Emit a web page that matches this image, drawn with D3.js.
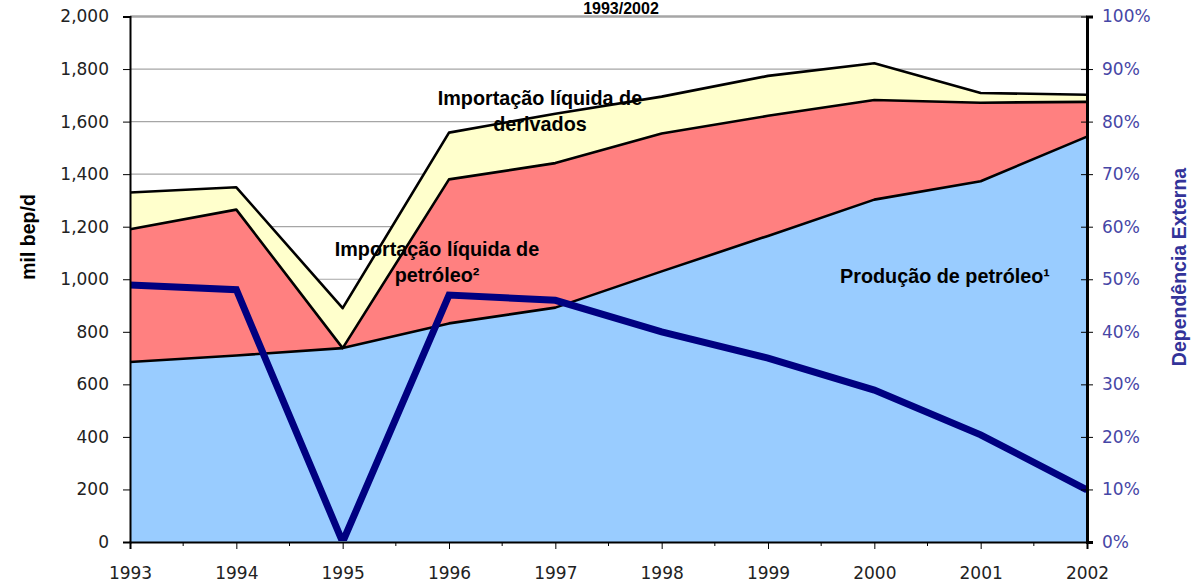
<!DOCTYPE html>
<html>
<head>
<meta charset="utf-8">
<script src="https://cdn.jsdelivr.net/npm/d3@7"></script>
<style>
  body { margin: 0; background: #fff; }
  svg { display: block; }
</style>
</head>
<body>
<svg id="chart" width="1191" height="585"></svg>
<script>
// values (mil bep/d and %)
const years = [1993, 1994, 1995, 1996, 1997, 1998, 1999, 2000, 2001, 2002];
const producao = [685, 710, 738, 832, 892, 1030, 1165, 1303, 1373, 1543];
const importPetroleo = [505, 555, 0, 548, 550, 525, 457, 379, 299, 132];
const importDerivados = [140, 85, 152, 178, 188, 140, 152, 140, 37, 27];
const dependencia = [48.9, 48.0, 0, 47.0, 46.0, 40.0, 35.0, 28.9, 20.4, 9.9];
const leftTicks = [0, 200, 400, 600, 800, 1000, 1200, 1400, 1600, 1800, 2000];
const rightTicks = [0, 10, 20, 30, 40, 50, 60, 70, 80, 90, 100];

const svg = d3.select('#chart');
const plotLeft = 130, plotRight = 1087, plotTop = 16.5, plotBottom = 542;

const x = d3.scaleLinear().domain([1993, 2002]).range([plotLeft, plotRight]);
const y = d3.scaleLinear().domain([0, 2000]).range([plotBottom, plotTop]);
const y2 = d3.scaleLinear().domain([0, 100]).range([plotBottom, plotTop]);

const tickFont = '"DejaVu Sans", Verdana, sans-serif';
const boldFont = '"Liberation Sans", Arial, sans-serif';

svg.append('clipPath')
  .attr('id', 'plotClip')
  .append('rect')
  .attr('x', plotLeft).attr('y', plotTop)
  .attr('width', plotRight - plotLeft).attr('height', plotBottom - plotTop - 1);

// gridlines
svg.append('g')
  .selectAll('line')
  .data(leftTicks.slice(1))
  .enter()
  .append('line')
  .attr('x1', plotLeft).attr('x2', plotRight)
  .attr('y1', (d) => y(d)).attr('y2', (d) => y(d))
  .attr('stroke', '#a6a6a6')
  .attr('stroke-width', (d) => (d === 2000 ? 2.5 : 1.2));

// stacked areas
const table = years.map((yr, i) => ({
  year: yr,
  prod: producao[i],
  crude: importPetroleo[i],
  deriv: importDerivados[i],
}));
const stack = d3.stack().keys(['prod', 'crude', 'deriv']);
const series = stack(table);
const fills = ['#99ccff', '#ff8080', '#ffffcc'];

const area = d3.area()
  .x((d) => x(d.data.year))
  .y0((d) => y(d[0]))
  .y1((d) => y(d[1]));
const topLine = d3.line()
  .x((d) => x(d.data.year))
  .y((d) => y(d[1]));

svg.append('g')
  .selectAll('path')
  .data(series)
  .enter()
  .append('path')
  .attr('d', area)
  .attr('fill', (d, i) => fills[i]);

svg.append('g')
  .selectAll('path')
  .data(series)
  .enter()
  .append('path')
  .attr('d', topLine)
  .attr('fill', 'none')
  .attr('stroke', '#000')
  .attr('stroke-width', 2.6)
  .attr('stroke-linejoin', 'round');

// dependency line
const depLine = d3.line()
  .x((d, i) => x(years[i]))
  .y((d) => y2(d));
svg.append('path')
  .datum(dependencia)
  .attr('clip-path', 'url(#plotClip)')
  .attr('d', depLine)
  .attr('fill', 'none')
  .attr('stroke', '#000080')
  .attr('stroke-width', 7)
  .attr('stroke-linejoin', 'miter');

// left axis
const leftAxis = svg.append('g')
  .attr('transform', `translate(${plotLeft},0)`)
  .call(d3.axisLeft(y).tickValues(leftTicks).tickFormat(d3.format(',')).tickSize(7).tickPadding(14));
leftAxis.select('.domain').attr('stroke', '#000').attr('stroke-width', 2);
leftAxis.selectAll('text')
  .attr('font-family', tickFont).attr('font-size', 17).attr('fill', '#222');

// bottom axis
const bottomAxis = svg.append('g')
  .attr('transform', `translate(0,${plotBottom})`)
  .call(d3.axisBottom(x).tickValues(years).tickFormat(d3.format('d')).tickSize(7).tickPadding(18));
bottomAxis.select('.domain').attr('stroke', '#000').attr('stroke-width', 2);
bottomAxis.selectAll('text')
  .attr('font-family', tickFont).attr('font-size', 17).attr('fill', '#222');
bottomAxis.selectAll('.minor')
  .data(years.slice(0, -1))
  .enter()
  .append('line')
  .attr('class', 'minor')
  .attr('x1', (d) => x(d + 0.5)).attr('x2', (d) => x(d + 0.5))
  .attr('y1', 0).attr('y2', 4)
  .attr('stroke', '#000');

// right axis
const rightAxis = svg.append('g')
  .attr('transform', `translate(${plotRight},0)`)
  .call(d3.axisRight(y2).tickValues(rightTicks).tickFormat((d) => d + '%').tickSize(6).tickPadding(9));
rightAxis.select('.domain').attr('stroke', '#000').attr('stroke-width', 3);
rightAxis.selectAll('.tick line').attr('x1', -6);
rightAxis.selectAll('text')
  .attr('font-family', tickFont).attr('font-size', 17).attr('fill', '#4646a6');

// title (top cut off in the source)
svg.append('text')
  .attr('x', 621).attr('y', 14)
  .attr('text-anchor', 'middle')
  .attr('font-family', boldFont).attr('font-weight', 'bold').attr('font-size', 16)
  .text('1993/2002');

// axis titles
svg.append('text')
  .attr('transform', 'translate(35,237) rotate(-90)')
  .attr('text-anchor', 'middle')
  .attr('font-family', boldFont).attr('font-weight', 'bold').attr('font-size', 19.5)
  .text('mil bep/d');

svg.append('text')
  .attr('transform', 'translate(1186,267) rotate(-90)')
  .attr('text-anchor', 'middle')
  .attr('font-family', boldFont).attr('font-weight', 'bold').attr('font-size', 19.5)
  .attr('fill', '#333399')
  .text('Dependência Externa');

// in-chart labels
const labels = [
  { lines: ['Importação líquida de', 'derivados'], x: 540, y: 105 },
  { lines: ['Importação líquida de', 'petróleo²'], x: 437, y: 256 },
  { lines: ['Produção de petróleo¹'], x: 945, y: 283 },
];
labels.forEach((l) => {
  const t = svg.append('text')
    .attr('text-anchor', 'middle')
    .attr('font-family', boldFont).attr('font-weight', 'bold').attr('font-size', 19.8);
  l.lines.forEach((s, i) => {
    t.append('tspan').attr('x', l.x).attr('y', l.y + i * 26).text(s);
  });
});
</script>
</body>
</html>
